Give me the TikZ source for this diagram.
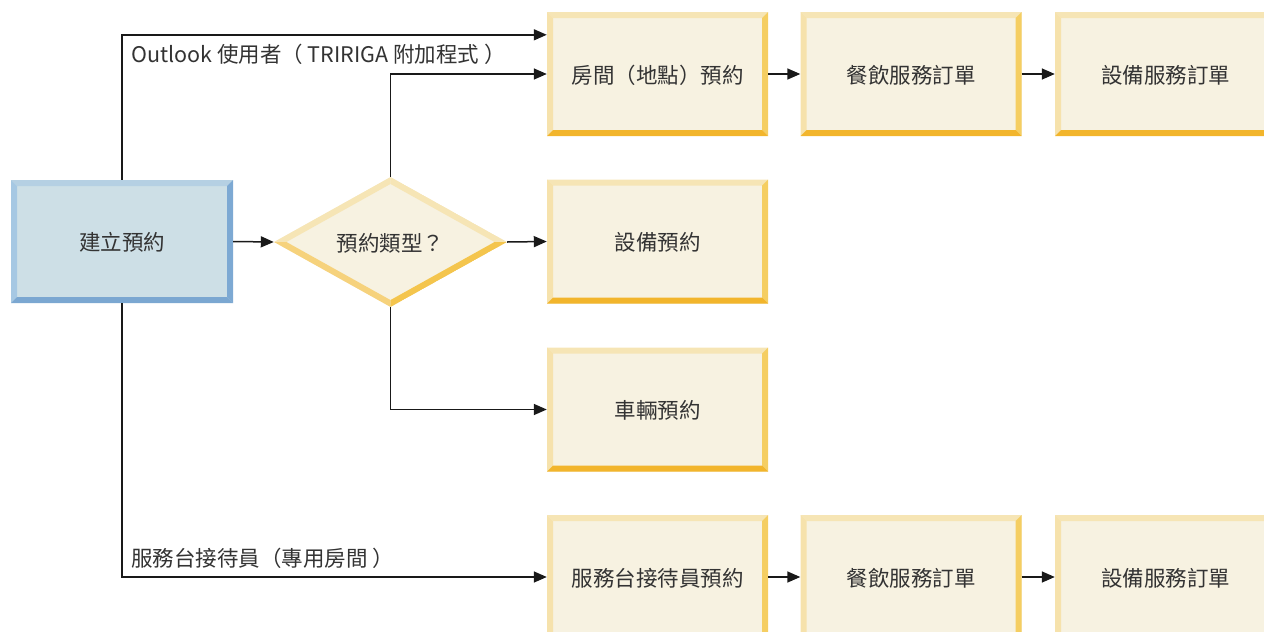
\documentclass[tikz,border=0pt]{standalone}
\usepackage{fontspec}
\setmainfont{Noto Sans CJK TC}
\usetikzlibrary{arrows.meta,shapes.geometric,calc}
\definecolor{bfill}{HTML}{CDDFE6}
\definecolor{btop}{HTML}{B5D0E3}
\definecolor{bleft}{HTML}{A6C8E3}
\definecolor{bright}{HTML}{7DA9D3}
\definecolor{bbot}{HTML}{7BA7D1}
\definecolor{yfill}{HTML}{F7F2E1}
\definecolor{ytop}{HTML}{F6E5B5}
\definecolor{yleft}{HTML}{F6E2AC}
\definecolor{yright}{HTML}{F5CE62}
\definecolor{ybot}{HTML}{F2B52C}
\definecolor{dbl}{HTML}{F6D27C}
\definecolor{dbr}{HTML}{F4C54D}
\definecolor{txt}{HTML}{333333}
\newcommand\bevelrect[4]{%
  \coordinate (bvNW) at (path picture bounding box.north west);
  \coordinate (bvNE) at (path picture bounding box.north east);
  \coordinate (bvSW) at (path picture bounding box.south west);
  \coordinate (bvSE) at (path picture bounding box.south east);
  \fill[#1] (bvNW) -- (bvNE) -- ($(bvNE)+(-6pt,-6pt)$) -- ($(bvNW)+(6pt,-6pt)$) -- cycle;
  \fill[#2] (bvNW) -- (bvSW) -- ($(bvSW)+(6pt,6pt)$) -- ($(bvNW)+(6pt,-6pt)$) -- cycle;
  \fill[#3] (bvNE) -- (bvSE) -- ($(bvSE)+(-6pt,6pt)$) -- ($(bvNE)+(-6pt,-6pt)$) -- cycle;
  \fill[#4] (bvSW) -- (bvSE) -- ($(bvSE)+(-6pt,6pt)$) -- ($(bvSW)+(6pt,6pt)$) -- cycle;
}
\newcommand\beveldiamond{%
  \coordinate (bdN) at (path picture bounding box.north);
  \coordinate (bdS) at (path picture bounding box.south);
  \coordinate (bdE) at (path picture bounding box.east);
  \coordinate (bdW) at (path picture bounding box.west);
  \coordinate (bdC) at (path picture bounding box.center);
  \coordinate (bdn) at ($(bdN)!0.106!(bdC)$);
  \coordinate (bds) at ($(bdS)!0.106!(bdC)$);
  \coordinate (bde) at ($(bdE)!0.106!(bdC)$);
  \coordinate (bdw) at ($(bdW)!0.106!(bdC)$);
  \fill[ytop] (bdW) -- (bdN) -- (bdn) -- (bdw) -- cycle;
  \fill[ytop] (bdN) -- (bdE) -- (bde) -- (bdn) -- cycle;
  \fill[dbl] (bdW) -- (bdS) -- (bds) -- (bdw) -- cycle;
  \fill[dbr] (bdS) -- (bdE) -- (bde) -- (bds) -- cycle;
}
\tikzset{
  tfont/.style={text=txt, font=\fontsize{21.5}{26}\selectfont},
  ybox/.style={rectangle, minimum width=221pt, minimum height=124pt, inner sep=0pt,
    fill=yfill, tfont, text depth=-2pt,
    path picture={\bevelrect{ytop}{yleft}{yright}{ybot}}},
  bbox/.style={rectangle, minimum width=222pt, minimum height=123pt, inner sep=0pt,
    fill=bfill, tfont, text depth=-2pt,
    path picture={\bevelrect{btop}{bleft}{bright}{bbot}}},
  dbox/.style={diamond, aspect=1.79, minimum width=233pt, minimum height=130pt, inner sep=0pt,
    fill=yfill, tfont, text depth=-2pt,
    path picture={\beveldiamond}},
  lbl/.style={tfont, anchor=west, inner sep=0pt},
  arr/.style={draw=black!90, line width=1.5pt, -{Triangle[length=13pt,width=11pt]}},
}
\begin{document}
\begin{tikzpicture}[x=1pt,y=-1pt]
\useasboundingbox (0,0) rectangle (1264,632);
\clip (0,0) rectangle (1264,632);
\node[bbox] (start) at (122,241.5) {建立預約};
\node[dbox] (type) at (390.5,242) {預約類型？};
\node[ybox] (room) at (657.5,74) {房間（地點）預約};
\node[ybox] (cat1) at (911,74) {餐飲服務訂單};
\node[ybox] (eq1) at (1165.5,74) {設備服務訂單};
\node[ybox] (equip) at (657.5,241.5) {設備預約};
\node[ybox] (car) at (657.5,409.5) {車輛預約};
\node[ybox] (desk) at (657.5,577) {服務台接待員預約};
\node[ybox] (cat2) at (911,577) {餐飲服務訂單};
\node[ybox] (eq2) at (1165.5,577) {設備服務訂單};
\coordinate (outin) at ($(room.north west)+(0,23)$);
\draw[arr] (start.north) |- (outin);
\draw[arr] (type.north) |- (room.west);
\draw[arr] (start.east) -- (type.west);
\draw[arr] (type.east) -- (equip.west);
\draw[arr] (type.south) |- (car.west);
\draw[arr] (start.south) |- (desk.west);
\draw[arr] (room.east) -- (cat1.west);
\draw[arr] (cat1.east) -- (eq1.west);
\draw[arr] (desk.east) -- (cat2.west);
\draw[arr] (cat2.east) -- (eq2.west);
\node[lbl] (outlbl) at (131,54) {Outlook 使用者（ TRIRIGA 附加程式 ）};
\node[lbl] (desklbl) at (131,558) {服務台接待員（專用房間 ）};
\end{tikzpicture}
\end{document}
